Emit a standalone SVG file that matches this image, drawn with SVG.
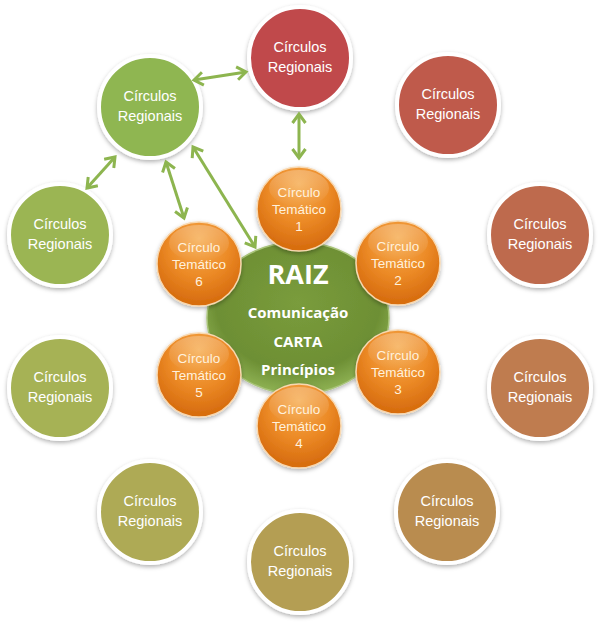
<svg xmlns="http://www.w3.org/2000/svg" width="600" height="625" viewBox="0 0 600 625">
  <style>
    .reg { stroke: #ffffff; stroke-width: 4; filter: url(#shadow); }
    .regtxt { font-family: "Liberation Sans", "DejaVu Sans", sans-serif; font-size: 14.5px; fill: #ffffff; text-anchor: middle; }
    .tema { fill: url(#orange); stroke: #f8d8b0; stroke-width: 1.5; filter: url(#shadow); }
    .gloss { fill: url(#gloss); }
    .tematxt { font-family: "Liberation Sans", "DejaVu Sans", sans-serif; font-size: 13.5px; fill: #fff1dd; text-anchor: middle; }
    .raiztxt { font-family: "Open Sans", "Liberation Sans", sans-serif; font-weight: bold; fill: #ffffff; text-anchor: middle; }
    .link { stroke: #8db54f; stroke-width: 3; fill: none; marker-start: url(#chev); marker-end: url(#chev); }
  </style>
  <defs>
    <filter id="shadow" x="-20%" y="-20%" width="140%" height="150%">
      <feDropShadow dx="0" dy="2" stdDeviation="2" flood-color="#000000" flood-opacity="0.3"/>
    </filter>
    <radialGradient id="orange" cx="50%" cy="35%" r="60%" fx="50%" fy="20%">
      <stop offset="0%" stop-color="#f6ae55"/>
      <stop offset="60%" stop-color="#ec8a26"/>
      <stop offset="100%" stop-color="#d86e10"/>
    </radialGradient>
    <linearGradient id="gloss" x1="0" y1="0" x2="0" y2="1">
      <stop offset="0%" stop-color="#ffffff" stop-opacity="0.25"/>
      <stop offset="100%" stop-color="#ffffff" stop-opacity="0"/>
    </linearGradient>
    <radialGradient id="raiz" cx="50%" cy="40%" r="60%">
      <stop offset="0%" stop-color="#7a9c3c"/>
      <stop offset="75%" stop-color="#6d8f34"/>
      <stop offset="100%" stop-color="#8fb254"/>
    </radialGradient>
    <marker id="chev" markerUnits="userSpaceOnUse" markerWidth="16" markerHeight="16" viewBox="0 0 16 16" refX="12" refY="8" orient="auto-start-reverse">
      <path d="M3,1.5 L12,8 L3,14.5" fill="none" stroke="#8db54f" stroke-width="3" stroke-linejoin="miter"/>
    </marker>
  </defs>

  <rect width="600" height="625" fill="#ffffff"/>

  <!-- Regional circles, clockwise from the top -->
  <g id="reg-top">
    <circle class="reg" cx="300" cy="58" r="51" fill="#c0484b"/>
    <text class="regtxt" x="300" y="52">Círculos</text>
    <text class="regtxt" x="300" y="72">Regionais</text>
  </g>
  <g id="reg-top-right">
    <circle class="reg" cx="448" cy="105" r="51" fill="#bf5a4c"/>
    <text class="regtxt" x="448" y="99">Círculos</text>
    <text class="regtxt" x="448" y="119">Regionais</text>
  </g>
  <g id="reg-right">
    <circle class="reg" cx="540" cy="235" r="51" fill="#be6b4e"/>
    <text class="regtxt" x="540" y="229">Círculos</text>
    <text class="regtxt" x="540" y="249">Regionais</text>
  </g>
  <g id="reg-right-low">
    <circle class="reg" cx="540" cy="388" r="51" fill="#bf7b50"/>
    <text class="regtxt" x="540" y="382">Círculos</text>
    <text class="regtxt" x="540" y="402">Regionais</text>
  </g>
  <g id="reg-bottom-right">
    <circle class="reg" cx="447" cy="512" r="51" fill="#b98c50"/>
    <text class="regtxt" x="447" y="506">Círculos</text>
    <text class="regtxt" x="447" y="526">Regionais</text>
  </g>
  <g id="reg-bottom">
    <circle class="reg" cx="300" cy="562" r="51" fill="#b49e52"/>
    <text class="regtxt" x="300" y="556">Círculos</text>
    <text class="regtxt" x="300" y="576">Regionais</text>
  </g>
  <g id="reg-bottom-left">
    <circle class="reg" cx="150" cy="512" r="51" fill="#aeaa55"/>
    <text class="regtxt" x="150" y="506">Círculos</text>
    <text class="regtxt" x="150" y="526">Regionais</text>
  </g>
  <g id="reg-left-low">
    <circle class="reg" cx="60" cy="388" r="51" fill="#a6b255"/>
    <text class="regtxt" x="60" y="382">Círculos</text>
    <text class="regtxt" x="60" y="402">Regionais</text>
  </g>
  <g id="reg-left">
    <circle class="reg" cx="60" cy="235" r="51" fill="#9bb553"/>
    <text class="regtxt" x="60" y="229">Círculos</text>
    <text class="regtxt" x="60" y="249">Regionais</text>
  </g>
  <g id="reg-top-left">
    <circle class="reg" cx="150" cy="107" r="51" fill="#8fb651"/>
    <text class="regtxt" x="150" y="101">Círculos</text>
    <text class="regtxt" x="150" y="121">Regionais</text>
  </g>

  <!-- Two-way links -->
  <g id="connectors">
    <line class="link" x1="194" y1="80" x2="246" y2="72"/>
    <line class="link" x1="299" y1="114" x2="299" y2="158"/>
    <line class="link" x1="115" y1="157" x2="87" y2="188"/>
    <line class="link" x1="166" y1="162" x2="184" y2="218"/>
    <line class="link" x1="193" y1="147" x2="255" y2="247"/>
  </g>

  <!-- Central root node -->
  <g id="raiz">
    <ellipse cx="298" cy="318" rx="91" ry="76" fill="url(#raiz)" stroke="#a9c47a" stroke-width="1.5" filter="url(#shadow)"/>
    <text class="raiztxt" x="298" y="284" font-size="27">RAIZ</text>
    <text class="raiztxt" x="298" y="318" font-size="15">Comunicação</text>
    <text class="raiztxt" x="298" y="347" font-size="15">CARTA</text>
    <text class="raiztxt" x="298" y="375" font-size="15">Princípios</text>
  </g>

  <!-- Thematic circles around the root -->
  <g id="tema-1">
    <circle class="tema" cx="299" cy="209" r="42"/>
    <ellipse class="gloss" cx="299" cy="188" rx="30" ry="18"/>
    <text class="tematxt" x="299" y="197">Círculo</text>
    <text class="tematxt" x="299" y="214">Temático</text>
    <text class="tematxt" x="299" y="231">1</text>
  </g>
  <g id="tema-2">
    <circle class="tema" cx="398" cy="263" r="42"/>
    <ellipse class="gloss" cx="398" cy="242" rx="30" ry="18"/>
    <text class="tematxt" x="398" y="251">Círculo</text>
    <text class="tematxt" x="398" y="268">Temático</text>
    <text class="tematxt" x="398" y="285">2</text>
  </g>
  <g id="tema-3">
    <circle class="tema" cx="398" cy="372" r="42"/>
    <ellipse class="gloss" cx="398" cy="351" rx="30" ry="18"/>
    <text class="tematxt" x="398" y="360">Círculo</text>
    <text class="tematxt" x="398" y="377">Temático</text>
    <text class="tematxt" x="398" y="394">3</text>
  </g>
  <g id="tema-4">
    <circle class="tema" cx="299" cy="426" r="42"/>
    <ellipse class="gloss" cx="299" cy="405" rx="30" ry="18"/>
    <text class="tematxt" x="299" y="414">Círculo</text>
    <text class="tematxt" x="299" y="431">Temático</text>
    <text class="tematxt" x="299" y="448">4</text>
  </g>
  <g id="tema-5">
    <circle class="tema" cx="199" cy="375" r="42"/>
    <ellipse class="gloss" cx="199" cy="354" rx="30" ry="18"/>
    <text class="tematxt" x="199" y="363">Círculo</text>
    <text class="tematxt" x="199" y="380">Temático</text>
    <text class="tematxt" x="199" y="397">5</text>
  </g>
  <g id="tema-6">
    <circle class="tema" cx="199" cy="264" r="42"/>
    <ellipse class="gloss" cx="199" cy="243" rx="30" ry="18"/>
    <text class="tematxt" x="199" y="252">Círculo</text>
    <text class="tematxt" x="199" y="269">Temático</text>
    <text class="tematxt" x="199" y="286">6</text>
  </g>
</svg>
